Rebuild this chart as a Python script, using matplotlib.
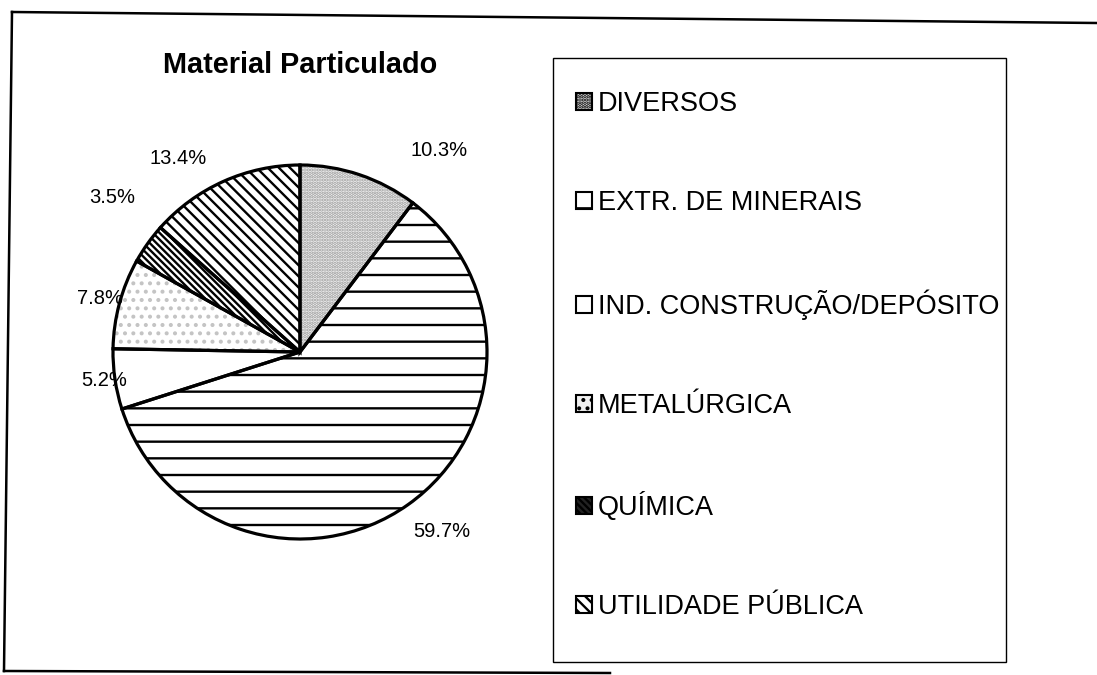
import numpy as np
import matplotlib.pyplot as plt
from matplotlib.patches import Patch, Rectangle
from matplotlib.lines import Line2D

plt.rcParams['font.family'] = ['Liberation Sans', 'DejaVu Sans']
plt.rcParams['hatch.linewidth'] = 1.7

# data
categories = ['DIVERSOS', 'EXTR. DE MINERAIS', 'IND. CONSTRUÇÃO/DEPÓSITO',
              'METALÚRGICA', 'QUÍMICA', 'UTILIDADE PÚBLICA']
shares = [10.3, 59.7, 5.2, 7.8, 3.5, 13.4]
pct_labels = ['10.3%', '59.7%', '5.2%', '7.8%', '3.5%', '13.4%']

# fill styles per slice
faces = ['#f3f3f3', 'white', 'white', 'white', 'white', 'white']
hatches = ['.....', '-', '', '..', '\\' * 5, '\\' * 3]
hatch_cols = ['#9a9a9a', 'black', 'black', '#c4c4c4', 'black', 'black']
legend_faces = ['#d6d6d6', 'white', 'white', '#f0f0f0', '#222222', 'white']

W, H = 1097, 675
fig = plt.figure(figsize=(W / 100, H / 100), dpi=100)

# pie axes: centre ~(300, 352) px, radius ~187 px
R = 187
k = 1.4
size = 2 * R * k
cx, cy = 300, 352
ax = fig.add_axes([(cx - size / 2) / W, (H - cy - size / 2) / H, size / W, size / H])

wedges, _ = ax.pie(shares, startangle=90, counterclock=False, radius=1,
                   wedgeprops=dict(linewidth=0))
for w, fc, h, hc in zip(wedges, faces, hatches, hatch_cols):
    w.set_facecolor(fc)
    w.set_hatch(h)
    w.set_edgecolor(hc)

# outlines on top
ax.pie(shares, startangle=90, counterclock=False, radius=1,
       wedgeprops=dict(fill=False, edgecolor='black', linewidth=2.3))

# percentage labels around the pie
label_r = [1.31, 1.22, 1.06, 1.11, 1.30, 1.22]
label_shift = [-16, 3, 0, 0, -4, 8]
cum = 0
for s, txt, rr, sh in zip(shares, pct_labels, label_r, label_shift):
    mid = 90 - (cum + s / 2) / sum(shares) * 360 + sh
    cum += s
    a = np.deg2rad(mid)
    ax.text(rr * np.cos(a), rr * np.sin(a), txt, ha='center', va='center',
            fontsize=14.5)

ax.set_xlim(-k, k)
ax.set_ylim(-k, k)
ax.set_aspect('equal')
ax.axis('off')

fig.text(cx / W, 1 - 65 / H, 'Material Particulado', ha='center', va='center',
         fontsize=20.8, fontweight='bold')

# legend
handles = [Patch(facecolor=lf, hatch=h, edgecolor='black', linewidth=1.5)
           for lf, h in zip(legend_faces, hatches)]
fig.legend(handles, categories, loc='upper left',
           bbox_to_anchor=(576 / W, 1 - 91 / H), frameon=False,
           fontsize=19.5, labelspacing=2.7, handlelength=0.6,
           handleheight=0.6, handletextpad=0.2, borderpad=0, borderaxespad=0)

fig.add_artist(Rectangle((553 / W, 1 - 662 / H), (1006 - 553) / W, (662 - 58) / H,
                         transform=fig.transFigure, fill=False,
                         edgecolor='black', linewidth=1))

# outer frame lines
def px_line(x0, y0, x1, y1, lw=1.8):
    fig.add_artist(Line2D([x0 / W, x1 / W], [1 - y0 / H, 1 - y1 / H],
                          transform=fig.transFigure, color='black', linewidth=lw))

px_line(12, 12, W, 23)
px_line(12, 12, 4, 671)
px_line(4, 671, 610, 673)

fig.savefig('out.png', dpi=100, facecolor='white')
